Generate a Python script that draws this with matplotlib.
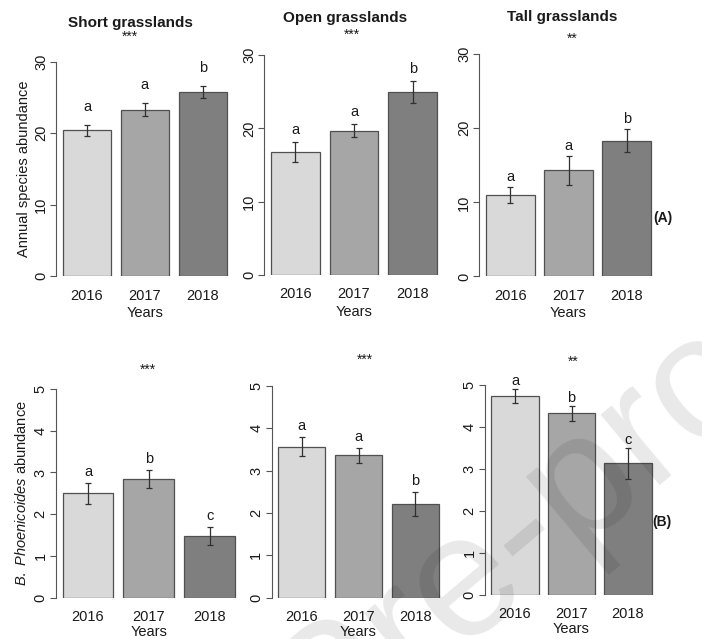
import matplotlib
matplotlib.use("Agg")
import matplotlib.pyplot as plt

plt.rcParams['font.family'] = ['Liberation Sans', 'DejaVu Sans']
plt.rcParams['mathtext.fontset'] = 'custom'
plt.rcParams['mathtext.it'] = 'Liberation Sans:italic'
plt.rcParams['mathtext.rm'] = 'Liberation Sans'

# data
years = ['2016', '2017', '2018']
bar_colors = ['#d9d9d9', '#a6a6a6', '#7f7f7f']

short_mean = [20.4, 23.3, 25.8]
short_se = [0.75, 0.85, 0.85]
short_let = ['a', 'a', 'b']

open_mean = [16.8, 19.7, 24.95]
open_se = [1.35, 0.85, 1.5]
open_let = ['a', 'a', 'b']

tall_mean = [11.0, 14.3, 18.3]
tall_se = [1.1, 1.9, 1.55]
tall_let = ['a', 'a', 'b']

bp_short_mean = [2.5, 2.85, 1.48]
bp_short_se = [0.25, 0.21, 0.22]
bp_short_let = ['a', 'b', 'c']

bp_open_mean = [3.57, 3.36, 2.21]
bp_open_se = [0.22, 0.17, 0.28]
bp_open_let = ['a', 'a', 'b']

bp_tall_mean = [4.74, 4.32, 3.13]
bp_tall_se = [0.16, 0.17, 0.37]
bp_tall_let = ['a', 'b', 'c']

titles = ['Short grasslands', 'Open grasslands', 'Tall grasslands']
top_stars = ['***', '***', '**']
bottom_stars = ['***', '***', '**']

W, H = 702, 639
fig = plt.figure(figsize=(W / 100, H / 100), dpi=100)

txt = '#1a1a1a'
axcol = '#555555'


def add_panel(left, right, top, bottom, means, ses, letters, ymax, step, gap, xlpad):
    ax = fig.add_axes([left / W, 1 - bottom / H, (right - left) / W, (bottom - top) / H])
    pos = [0.7, 1.9, 3.1]
    ax.bar(pos, means, width=1.0, color=bar_colors, edgecolor='#505050', linewidth=0.9, zorder=2)
    ax.errorbar(pos, means, yerr=ses, fmt='none', ecolor='#303030', elinewidth=0.9,
                capsize=2.2, capthick=0.9, zorder=3)
    for p, m, s, l in zip(pos, means, ses, letters):
        ax.annotate(l, (p, m + s), xytext=(0, gap), textcoords='offset pixels',
                    ha='center', va='center', fontsize=10.5, color=txt)
    ax.set_xlim(0.064, 3.736)
    ax.set_ylim(0, ymax)
    for s in ['top', 'right', 'bottom']:
        ax.spines[s].set_visible(False)
    ax.spines['left'].set_color(axcol)
    ax.spines['left'].set_linewidth(0.8)
    ax.spines['left'].set_bounds(0, ymax)
    ax.set_yticks(range(0, ymax + 1, step))
    ax.tick_params(axis='y', length=4, width=0.8, color=axcol, labelsize=10.5,
                   labelcolor=txt, pad=2, labelrotation=90)
    for t in ax.get_yticklabels():
        t.set_va('center')
    ax.set_xticks(pos)
    ax.set_xticklabels(years)
    ax.tick_params(axis='x', length=0, labelsize=10.5, labelcolor=txt, pad=9)
    ax.set_xlabel('Years', fontsize=10.5, color=txt, labelpad=xlpad)
    ax.patch.set_alpha(0)
    return ax


# top row
a1 = add_panel(56.4, 233.4, 61.7, 276, short_mean, short_se, short_let, 30, 10, 18, 2.5)
a2 = add_panel(264.4, 443.7, 55, 275, open_mean, open_se, open_let, 30, 10, 12, 2.5)
a3 = add_panel(479.4, 657.6, 54, 276.5, tall_mean, tall_se, tall_let, 30, 10, 10, 2.5)
a1.set_ylabel('Annual species abundance', fontsize=10.5, color=txt, labelpad=2.5)

# bottom row
b1 = add_panel(55.8, 241.8, 389, 597.7, bp_short_mean, bp_short_se, bp_short_let, 5, 1, 11, 0.8)
b2 = add_panel(271.5, 445.5, 386, 597.7, bp_open_mean, bp_open_se, bp_open_let, 5, 1, 11, 0.8)
b3 = add_panel(485, 658, 385, 594.5, bp_tall_mean, bp_tall_se, bp_tall_let, 5, 1, 8, 0.8)
b1.set_ylabel(r'$\mathit{B.\ Phoenicoides}$ abundance', fontsize=10.5, color=txt, labelpad=3)

# titles and significance stars
title_xy = [(130, 23), (345, 18), (562, 17)]
for (x, y), t in zip(title_xy, titles):
    fig.text(x / W, 1 - y / H, t, ha='center', va='center', fontsize=11,
             fontweight='bold', color=txt)
star_top_xy = [(130, 37), (352, 35), (572, 39)]
for (x, y), s in zip(star_top_xy, top_stars):
    fig.text(x / W, 1 - y / H, s, ha='center', va='center', fontsize=10, color=txt)
star_bot_xy = [(148, 370), (365, 360), (573, 362)]
for (x, y), s in zip(star_bot_xy, bottom_stars):
    fig.text(x / W, 1 - y / H, s, ha='center', va='center', fontsize=10, color=txt)

fig.text(663 / W, 1 - 218 / H, '(A)', ha='center', va='center', fontsize=10,
         fontweight='bold', color=txt)
fig.text(662 / W, 1 - 522 / H, '(B)', ha='center', va='center', fontsize=10,
         fontweight='bold', color=txt)

# journal watermark
fig.text(880 / W, 1 - 300 / H, 'Journal Pre-proof', ha='right', va='baseline',
         rotation=40, rotation_mode='anchor', fontsize=125, color='black',
         alpha=0.09, zorder=10)

fig.savefig('out.png', dpi=100)
